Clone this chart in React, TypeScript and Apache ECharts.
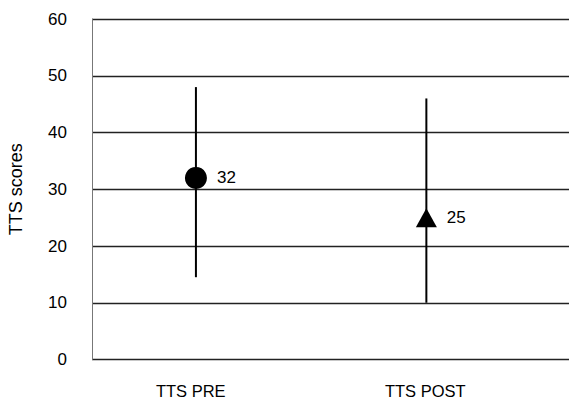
import React, { useEffect, useRef } from "react";
import * as echarts from "echarts";

const categories = ["TTS PRE", "TTS POST"];
const xPositions = [1, 2];
const means = [32, 25];
const lows = [14.5, 10];
const highs = [48, 46];
const symbols = ["circle", "triangle"];
const yTicks = [0, 10, 20, 30, 40, 50, 60];

export default function App() {
  const ref = useRef<HTMLDivElement>(null);
  useEffect(() => {
    if (!ref.current) return;
    const chart = echarts.init(ref.current, null, { renderer: "svg" });
    const font = "'Liberation Sans', Arial, sans-serif";
    chart.setOption({
      animation: false,
      backgroundColor: "#ffffff",
      grid: [
        { left: 92, right: 0, top: 19, bottom: 44.5, containLabel: false, outerBoundsMode: "none" },
        { left: 73.5, right: 26.5, top: 19, bottom: 44.5, containLabel: false, outerBoundsMode: "none" },
      ],
      xAxis: [
        {
          type: "value",
          gridIndex: 0,
          min: 0.549,
          max: 2.619,
          show: false,
        },
        {
          type: "category",
          gridIndex: 1,
          data: categories,
          boundaryGap: true,
          axisLine: { show: false },
          axisTick: { show: false },
          splitLine: { show: false },
          axisLabel: {
            margin: 23,
            color: "#000",
            fontFamily: font,
            fontSize: 16.5,
          },
        },
      ],
      yAxis: [
        {
          type: "value",
          gridIndex: 0,
          min: yTicks[0],
          max: yTicks[yTicks.length - 1],
          interval: 10,
          name: "TTS scores",
          nameLocation: "middle",
          nameGap: 67,
          nameRotate: 90,
          nameTextStyle: { color: "#000", fontFamily: font, fontSize: 18 },
          axisLine: { show: true, lineStyle: { color: "#777", width: 1 } },
          axisTick: { show: false },
          axisLabel: { margin: 25, color: "#000", fontFamily: font, fontSize: 17 },
          splitLine: { show: true, lineStyle: { color: "#222", width: 1.4 } },
        },
        {
          type: "value",
          gridIndex: 1,
          min: 0,
          max: 60,
          show: false,
        },
      ],
      series: [
        {
          type: "custom",
          xAxisIndex: 0,
          yAxisIndex: 0,
          data: xPositions.map((x, i) => [x, lows[i], highs[i]]),
          renderItem: (params: any, api: any) => {
            const p1 = api.coord([api.value(0), api.value(1)]);
            const p2 = api.coord([api.value(0), api.value(2)]);
            return {
              type: "line",
              shape: { x1: p1[0], y1: p1[1], x2: p2[0], y2: p2[1] },
              style: { stroke: "#000", lineWidth: 2 },
            };
          },
          z: 3,
        },
        {
          type: "scatter",
          xAxisIndex: 0,
          yAxisIndex: 0,
          data: xPositions.map((x, i) => ({
            value: [x, means[i]],
            symbol: symbols[i],
            symbolSize: i === 0 ? 22 : [21, 19],
          })),
          itemStyle: { color: "#000", opacity: 1 },
          label: {
            show: true,
            position: "right",
            distance: 10,
            color: "#000",
            fontFamily: font,
            fontSize: 17,
            formatter: (p: any) => String(p.value[1]),
          },
          z: 4,
        },
      ],
    });
    return () => chart.dispose();
  }, []);
  return <div ref={ref} style={{ width: 569, height: 404, position: "absolute", left: 0, top: 0 }} />;
}
